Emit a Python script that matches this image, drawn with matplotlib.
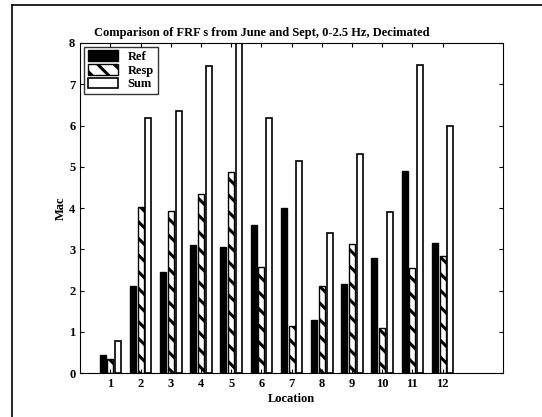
import numpy as np
import matplotlib.pyplot as plt
from matplotlib.lines import Line2D

plt.rcParams['font.family'] = ['Liberation Serif', 'DejaVu Serif']
plt.rcParams['font.weight'] = 'bold'
plt.rcParams['hatch.linewidth'] = 2.2

locations = np.arange(1, 13)
ref = [0.45, 2.12, 2.45, 3.10, 3.06, 3.58, 4.00, 1.28, 2.17, 2.78, 4.90, 3.15]
resp = [0.35, 4.02, 3.92, 4.35, 4.88, 2.58, 1.15, 2.12, 3.12, 1.10, 2.55, 2.85]
total = [0.78, 6.18, 6.35, 7.45, 8.10, 6.18, 5.15, 3.40, 5.30, 3.90, 7.47, 6.00]

fig = plt.figure(figsize=(5.42, 4.17), dpi=100)
ax = fig.add_axes([0.148, 0.105, 0.780, 0.792])

w = 0.2
ax.bar(locations - 0.26, ref, w, color='black', edgecolor='black', label='Ref')
ax.bar(locations, resp, w, color='white', edgecolor='black', hatch='\\\\', label='Resp')
ax.bar(locations + 0.26, total, w, color='white', edgecolor='black', linewidth=1.2, label='Sum')

ax.set_xlim(0, 14)
ax.set_ylim(0, 8)
ax.set_xticks(locations)
ax.set_yticks(range(9))
ax.tick_params(direction='in', top=True, right=True, labelsize=9, length=3)
for lbl in ax.get_xticklabels() + ax.get_yticklabels():
    lbl.set_fontweight('bold')

ax.set_xlabel('Location', fontsize=9, fontweight='bold', labelpad=2)
ax.set_ylabel('Mac', fontsize=9, fontweight='bold', labelpad=2)
ax.set_title("Comparison of FRF s from June and Sept, 0-2.5 Hz, Decimated",
             fontsize=9, fontweight='bold', pad=5, x=0.43)

leg = ax.legend(loc='upper left', fontsize=9, frameon=True, fancybox=False,
                edgecolor='black', borderaxespad=0.3, handlelength=2.4,
                handleheight=0.9, labelspacing=0.1, borderpad=0.3)
leg.get_frame().set_linewidth(1.0)

# scanned page frame: only the left and top edges are visible
fig.lines.append(Line2D([0.022, 0.022], [0.0, 0.988], transform=fig.transFigure,
                        color='black', linewidth=1.2))
fig.lines.append(Line2D([0.022, 1.0], [0.988, 0.988], transform=fig.transFigure,
                        color='black', linewidth=1.2))

fig.savefig('out.png', dpi=100)
